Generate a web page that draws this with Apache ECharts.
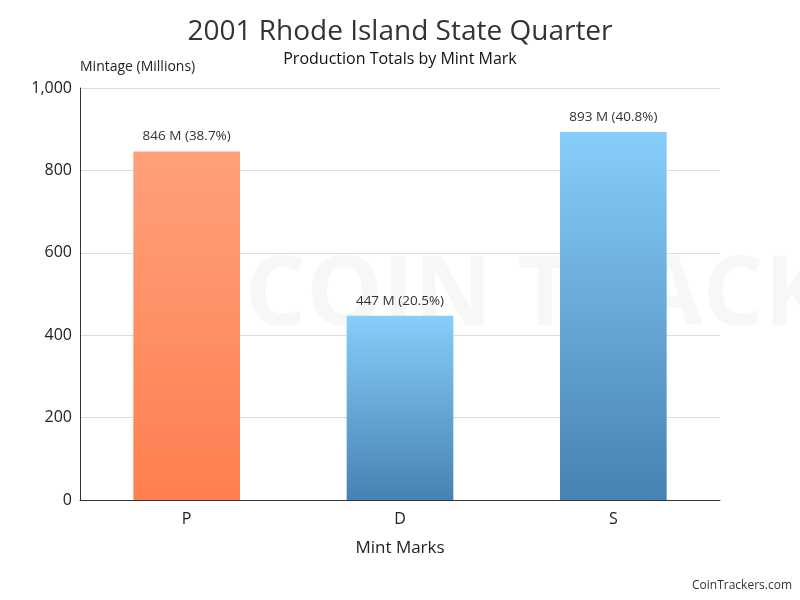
<!DOCTYPE html>
<html>
<head>
<meta charset="utf-8">
<script src="https://cdn.jsdelivr.net/npm/echarts@6/dist/echarts.min.js"></script>
<style>html,body{margin:0;padding:0;background:#fff}#c{width:800px;height:600px}</style>
</head>
<body>
<div id="c"></div>
<script>
const categories = ['P', 'D', 'S'];
const mintage = [846, 447, 893];
const labels = ['846 M (38.7%)', '447 M (20.5%)', '893 M (40.8%)'];
const yTicks = [0, 200, 400, 600, 800, 1000];

const orange = new echarts.graphic.LinearGradient(0, 0, 0, 1, [
  { offset: 0, color: '#FFA07A' }, { offset: 1, color: '#FF7F50' }]);
const blue = new echarts.graphic.LinearGradient(0, 0, 0, 1, [
  { offset: 0, color: '#87CEFA' }, { offset: 1, color: '#4682B4' }]);
const colors = [orange, blue, blue];

const font = '"Open Sans", sans-serif';
const chart = echarts.init(document.getElementById('c'));
chart.setOption({
  animation: false,
  textStyle: { fontFamily: font },
  title: {
    text: '2001 Rhode Island State Quarter',
    subtext: 'Production Totals by Mint Mark',
    left: 'center', top: 13, itemGap: 5,
    textStyle: { fontSize: 28, fontWeight: 'normal', color: '#333', fontFamily: font },
    subtextStyle: { fontSize: 16, color: '#111', fontFamily: font }
  },
  graphic: [
    { type: 'text', left: 245, top: 250, z: -10, silent: true,
      style: { text: 'COIN TRACKERS', fontSize: 96, fontWeight: 'bold', fill: 'rgba(0,0,0,0.03)', fontFamily: font } },
    { type: 'text', right: 8, bottom: 8,
      style: { text: 'CoinTrackers.com', fontSize: 12, fill: '#333', fontFamily: font } }
  ],
  grid: { left: 80, right: 80, top: 88, bottom: 100, containLabel: false },
  xAxis: {
    type: 'category', data: categories,
    name: 'Mint Marks', nameLocation: 'middle', nameGap: 40,
    nameTextStyle: { fontSize: 17, color: '#222' },
    axisLine: { lineStyle: { color: '#333' } },
    axisTick: { show: false },
    axisLabel: { fontSize: 16, color: '#222', margin: 11 }
  },
  yAxis: {
    type: 'value', min: 0, max: 1000, interval: 200,
    name: 'Mintage (Millions)', nameLocation: 'end', nameGap: 14,
    nameTextStyle: { fontSize: 14, color: '#222', align: 'left' },
    axisLine: { show: true, lineStyle: { color: '#333' } },
    axisTick: { show: false },
    axisLabel: { fontSize: 16, color: '#222', margin: 8,
      formatter: v => yTicks.includes(v) ? v.toLocaleString('en-US') : '' },
    splitLine: { lineStyle: { color: '#dcdcdc' } }
  },
  series: [{
    type: 'bar', barWidth: '50%',
    data: mintage.map((v, i) => ({ value: v, itemStyle: { color: colors[i] } })),
    label: { show: true, position: 'top', distance: 8, fontSize: 13.5, color: '#333',
      formatter: p => labels[p.dataIndex] }
  }]
});
</script>
</body>
</html>
